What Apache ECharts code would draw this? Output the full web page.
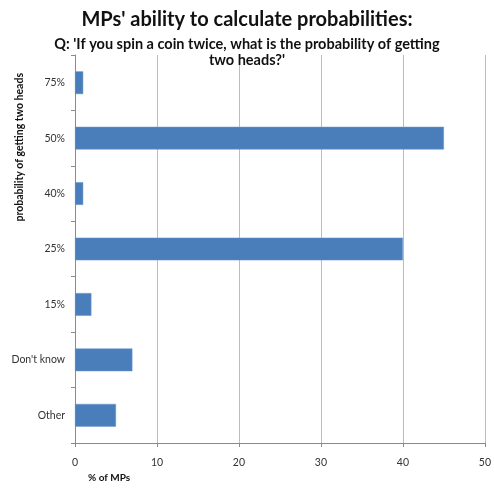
<!DOCTYPE html>
<html><head><meta charset="utf-8">
<script src="https://cdn.jsdelivr.net/npm/echarts@6/dist/echarts.min.js"></script>
<style>html,body{margin:0;padding:0;background:#fff}#c{width:494px;height:488px}</style>
</head><body><div id="c"></div>
<script>
const categories = ['75%', '50%', '40%', '25%', '15%', "Don't know", 'Other'];
const values = [1, 45, 1, 40, 2, 7, 5];
const xTicks = [0, 10, 20, 30, 40, 50];
const titleText = "MPs' ability to calculate probabilities:";
const subLine1 = "Q: 'If you spin a coin twice, what is the probability of getting";
const subLine2 = "two heads?'";
const yName = 'probability of getting two heads';
const xName = '% of MPs';

const font = 'Lato, "Open Sans", sans-serif';
const chart = echarts.init(document.getElementById('c'));
chart.setOption({
  backgroundColor: '#fff',
  animation: false,
  title: [
    {text: titleText, left: 'center', top: 5, textStyle: {fontFamily: font, fontSize: 20, fontWeight: 'bold', color: '#111'}},
    {text: subLine1, left: 'center', top: 37, padding: 0, textStyle: {fontFamily: font, fontSize: 14.5, fontWeight: 'bold', color: '#111'}},
    {text: subLine2, left: 'center', top: 53, padding: 0, textStyle: {fontFamily: font, fontSize: 14.5, fontWeight: 'bold', color: '#111'}}
  ],
  grid: {left: 75, right: 4, top: 55, bottom: 45, containLabel: false},
  xAxis: {
    type: 'value', min: xTicks[0], max: xTicks[xTicks.length - 1], interval: 10,
    axisLine: {show: true, lineStyle: {color: '#8a8a8a'}},
    axisTick: {show: true, length: 4, lineStyle: {color: '#8a8a8a'}},
    axisLabel: {fontFamily: font, fontSize: 10.5, color: '#333', margin: 14},
    splitLine: {show: true, lineStyle: {color: '#bdbdbd', width: 1}}
  },
  yAxis: {
    type: 'category', data: categories, inverse: true,
    axisLine: {show: true, lineStyle: {color: '#8a8a8a'}},
    axisTick: {show: true, length: 4, lineStyle: {color: '#8a8a8a'}},
    axisLabel: {fontFamily: font, fontSize: 10.5, color: '#333', margin: 10},
    splitLine: {show: false}
  },
  series: [{
    type: 'bar', data: values, barCategoryGap: '59%',
    itemStyle: {color: '#4a7ebb', borderColor: '#6b97cc', borderWidth: 0.5}
  }],
  graphic: [
    {type: 'text', left: 14, top: 73, rotation: Math.PI / 2, style: {text: yName, fontFamily: font, fontSize: 10.5, fontWeight: 'bold', fill: '#111'}},
    {type: 'text', left: 88, top: 473, style: {text: xName, fontFamily: font, fontSize: 10, fontWeight: 'bold', fill: '#111'}}
  ]
});
</script></body></html>
